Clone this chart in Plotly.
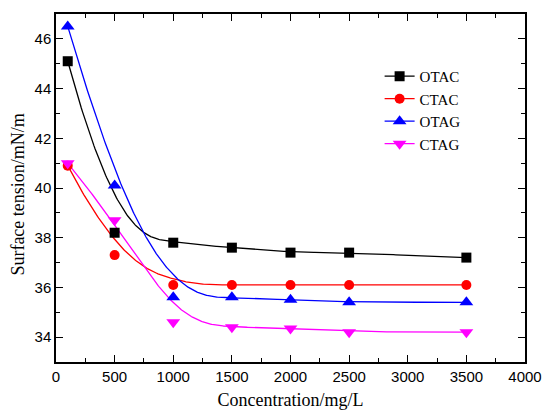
import numpy as np
import plotly.graph_objects as go

conc = [100, 500, 1000, 1500, 2000, 2500, 3500]
otac = [45.1, 38.2, 37.8, 37.6, 37.4, 37.4, 37.2]
ctac = [40.9, 37.3, 36.1, 36.1, 36.1, 36.1, 36.1]
otag = [46.5, 40.1, 35.6, 35.6, 35.5, 35.4, 35.4]
ctag = [41.0, 38.7, 34.6, 34.4, 34.35, 34.2, 34.2]

series = [
    ("OTAC", otac, "#000000", "square", 10),
    ("CTAC", ctac, "#ff0000", "circle", 10),
    ("OTAG", otag, "#0000ff", "triangle-up", 12),
    ("CTAG", ctag, "#ff00ff", "triangle-down", 12),
]


def bspline(xs, ys, num=400, k=3):
    P = np.column_stack([xs, ys]).astype(float)
    n = len(P)
    knots = np.concatenate([[0] * k, np.arange(n - k + 1), [n - k] * k]).astype(float)
    out = []
    for tt in np.linspace(0, n - k, num):
        if tt >= knots[-1]:
            span = n - 1
        else:
            span = int(np.searchsorted(knots, tt, side="right") - 1)
        d = [P[j + span - k].copy() for j in range(k + 1)]
        for r in range(1, k + 1):
            for j in range(k, r - 1, -1):
                i = j + span - k
                den = knots[i + k + 1 - r] - knots[i]
                a = 0.0 if den == 0 else (tt - knots[i]) / den
                d[j] = (1 - a) * d[j - 1] + a * d[j]
        out.append(d[k])
    out = np.array(out)
    return out[:, 0], out[:, 1]


fig = go.Figure()
for name, vals, col, sym, sz in series:
    cx, cy = bspline(conc, vals)
    fig.add_trace(go.Scatter(x=cx, y=cy, mode="lines", line=dict(color=col, width=1.3),
                             showlegend=False, hoverinfo="skip"))
for name, vals, col, sym, sz in series:
    fig.add_trace(go.Scatter(x=conc, y=vals, mode="markers", showlegend=False,
                             marker=dict(symbol=sym, size=sz, color=col, line=dict(width=0))))
for name, vals, col, sym, sz in series:
    fig.add_trace(go.Scatter(x=[None], y=[None], mode="lines+markers", name=name,
                             line=dict(color=col, width=1.3),
                             marker=dict(symbol=sym, size=sz, color=col, line=dict(width=0))))

axis_common = dict(showline=True, linecolor="black", linewidth=1.5, mirror="allticks",
                   ticks="inside", ticklen=7, tickwidth=1.3, tickcolor="black",
                   showgrid=False, zeroline=False, automargin=False,
                   ticklabeloverflow="allow",
                   tickfont=dict(family="Liberation Sans, Arial", size=15, color="black"))

fig.update_xaxes(range=[0, 4000], dtick=500, tick0=0,
                 minor=dict(dtick=250, ticks="inside", ticklen=4, tickcolor="black", showgrid=False),
                 title=dict(text="Concentration/mg/L", standoff=10,
                            font=dict(family="Liberation Serif, Times New Roman", size=18, color="black")),
                 **axis_common)
fig.update_yaxes(range=[33, 47], dtick=2, tick0=0,
                 minor=dict(dtick=1, ticks="inside", ticklen=4, tickcolor="black", showgrid=False),
                 **axis_common)

fig.add_annotation(text="Surface tension/mN/m", xref="paper", yref="paper",
                   x=-0.081, y=0.481, xanchor="center", yanchor="middle", textangle=-90,
                   showarrow=False,
                   font=dict(family="Liberation Serif, Times New Roman", size=18, color="black"))

fig.update_layout(
    width=542, height=411,
    margin=dict(l=56, r=17, t=14, b=49),
    paper_bgcolor="white", plot_bgcolor="white",
    legend=dict(x=0.69, y=0.868, xanchor="left", yanchor="top", bgcolor="rgba(0,0,0,0)",
                font=dict(family="Liberation Serif, Times New Roman", size=15, color="black"),
                tracegroupgap=0, itemsizing="trace"),
)

fig.write_html("out.html",
               config={"displayModeBar": False},
               post_script="document.body.style.margin='0';document.body.style.overflow='hidden';")
